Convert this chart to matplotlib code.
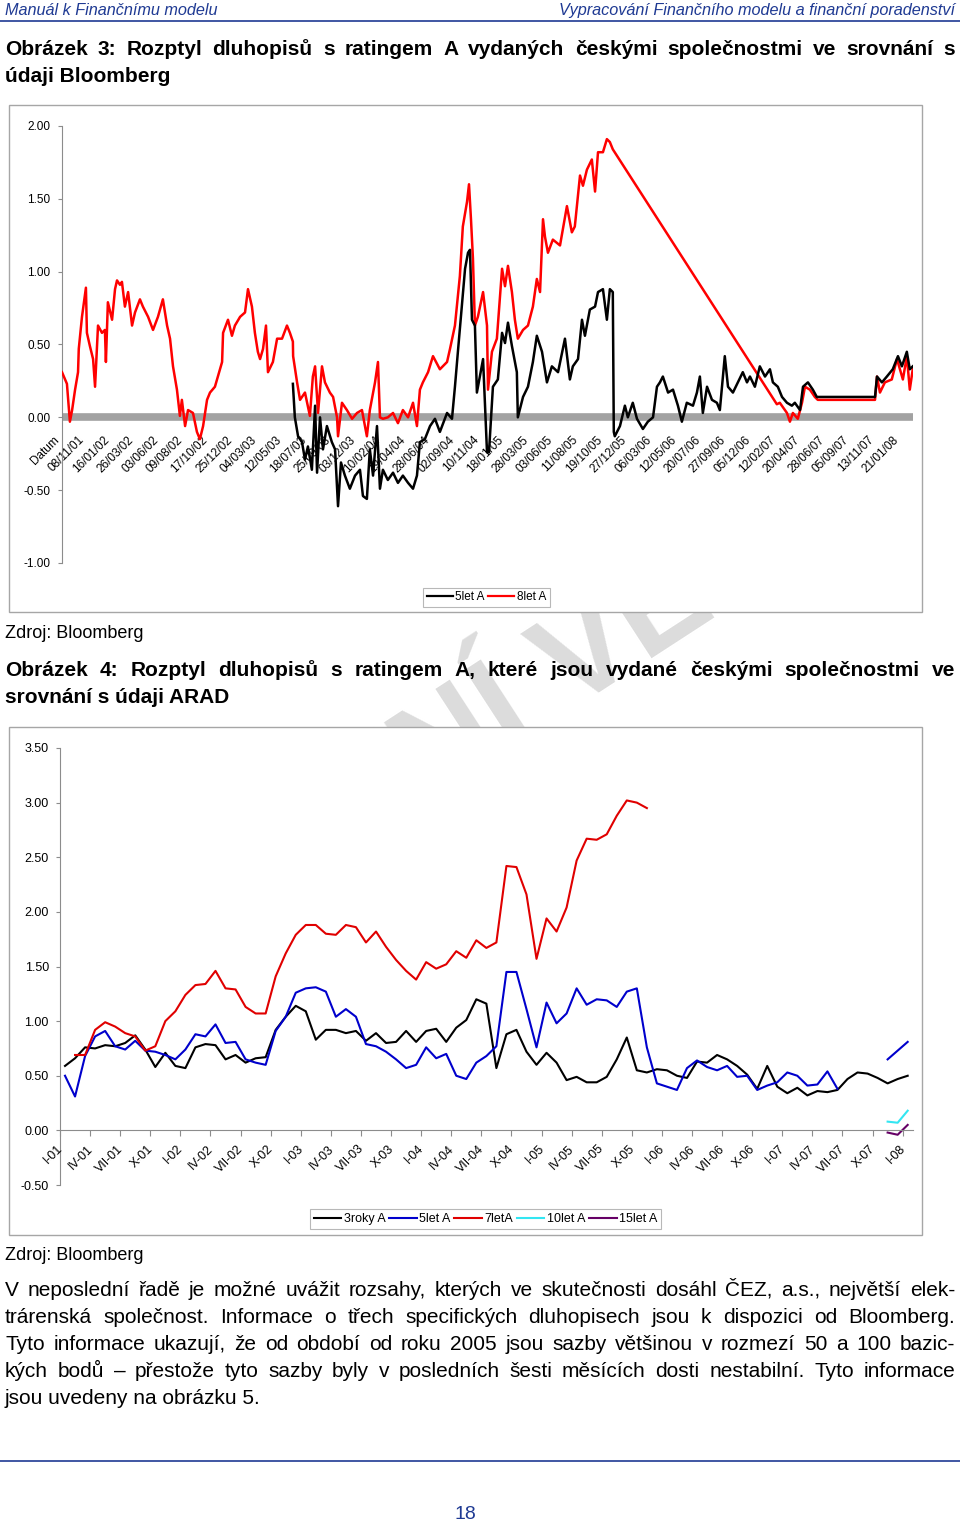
import numpy as np
import matplotlib
matplotlib.use('Agg')
import matplotlib.pyplot as plt
from matplotlib.patches import Rectangle
from matplotlib.lines import Line2D

plt.rcParams['font.family'] = ['Liberation Sans', 'DejaVu Sans']

# ---------------- data: chart 1 (daily spreads, x in label steps) ----------------
dates1 = ['Datum', '08/11/01', '16/01/02', '26/03/02', '03/06/02', '09/08/02', '17/10/02',
          '25/12/02', '04/03/03', '12/05/03', '18/07/03', '25/09/03', '03/12/03', '10/02/04',
          '19/04/04', '28/06/04', '02/09/04', '10/11/04', '18/01/05', '28/03/05', '03/06/05',
          '11/08/05', '19/10/05', '27/12/05', '06/03/06', '12/05/06', '20/07/06', '27/09/06',
          '05/12/06', '12/02/07', '20/04/07', '28/06/07', '05/09/07', '13/11/07', '21/01/08']

x_8let = [0.00, 0.20, 0.32, 0.41, 0.53, 0.65, 0.68, 0.81, 0.97, 1.01, 1.13, 1.26, 1.34, 1.46,
          1.62, 1.74, 1.78, 1.86, 2.03, 2.15, 2.23, 2.35, 2.43, 2.55, 2.68, 2.84, 2.96, 3.16,
          3.28, 3.49, 3.69, 3.89, 4.09, 4.26, 4.38, 4.50, 4.66, 4.78, 4.86, 4.99, 5.11, 5.31,
          5.47, 5.59, 5.72, 5.88, 6.00, 6.20, 6.32, 6.49, 6.53, 6.73, 6.89, 7.01, 7.22, 7.42,
          7.54, 7.70, 7.82, 7.94, 8.03, 8.15, 8.27, 8.35, 8.55, 8.72, 8.92, 9.12, 9.24, 9.36,
          9.37, 9.53, 9.65, 9.85, 10.05, 10.17, 10.26, 10.38, 10.54, 10.66, 10.86, 10.99,
          11.15, 11.19, 11.35, 11.55, 11.76, 11.96, 12.16, 12.36, 12.48, 12.69, 12.81, 12.89,
          13.01, 13.21, 13.42, 13.62, 13.82, 14.03, 14.23, 14.39, 14.51, 14.63, 14.84, 15.04,
          15.32, 15.61, 15.73, 15.93, 16.13, 16.25, 16.42, 16.50, 16.58, 16.66, 16.74, 16.86,
          17.07, 17.23, 17.27, 17.43, 17.63, 17.84, 17.96, 18.08, 18.24, 18.36, 18.48, 18.69,
          18.89, 19.09, 19.25, 19.38, 19.50, 19.58, 19.70, 19.90, 20.19, 20.47, 20.67, 20.79,
          21.00, 21.12, 21.28, 21.48, 21.61, 21.73, 21.93, 22.09, 22.21, 22.33, 28.98, 29.10,
          29.39, 29.51, 29.63, 29.83, 30.00, 30.12, 30.32, 30.52, 30.64, 32.96, 33.04, 33.16,
          33.36, 33.64, 33.85, 33.97, 34.09, 34.25, 34.37, 34.49]
y_8let = [0.31, 0.23, -0.03, 0.05, 0.19, 0.31, 0.47, 0.69, 0.89, 0.58, 0.49, 0.40, 0.21, 0.63,
          0.58, 0.60, 0.38, 0.79, 0.67, 0.88, 0.94, 0.91, 0.93, 0.76, 0.86, 0.63, 0.72, 0.81,
          0.76, 0.69, 0.60, 0.69, 0.81, 0.63, 0.54, 0.35, 0.19, 0.01, 0.12, -0.06, 0.05, 0.03,
          -0.10, -0.15, -0.06, 0.12, 0.17, 0.21, 0.28, 0.38, 0.58, 0.67, 0.56, 0.63, 0.69, 0.72,
          0.88, 0.76, 0.58, 0.45, 0.40, 0.47, 0.63, 0.31, 0.38, 0.54, 0.54, 0.63, 0.58, 0.52,
          0.42, 0.24, 0.12, 0.17, 0.01, 0.28, 0.35, 0.03, 0.35, 0.24, 0.17, 0.14,
          0.00, -0.13, 0.10, 0.05, -0.01, 0.03, 0.05, -0.13, 0.05, 0.24, 0.38, 0.00,
          -0.01, 0.00, 0.03, -0.04, 0.05, 0.00, 0.10, -0.06, 0.19, 0.24, 0.31, 0.42,
          0.33, 0.38, 0.47, 0.63, 0.97, 1.31, 1.48, 1.60, 1.36, 1.09, 0.63, 0.69,
          0.86, 0.63, 0.19, 0.45, 0.54, 1.02, 0.90, 1.04, 0.86, 0.67, 0.54, 0.60,
          0.63, 0.76, 0.95, 0.86, 1.36, 1.24, 1.13, 1.22, 1.18, 1.45, 1.27, 1.31,
          1.66, 1.59, 1.70, 1.77, 1.55, 1.82, 1.82, 1.91, 1.89, 1.84, 0.09, 0.10,
          0.03, -0.03, 0.03, -0.01, 0.10, 0.21, 0.19, 0.14, 0.12, 0.12, 0.28, 0.17,
          0.24, 0.26, 0.40, 0.33, 0.26, 0.42, 0.19, 0.33]

x_5let = [9.36, 9.44, 9.57, 9.73, 9.85, 9.97, 10.13, 10.26, 10.34, 10.46, 10.58, 10.74, 10.94,
          11.07, 11.19, 11.31, 11.47, 11.67, 11.88, 12.08, 12.20, 12.36, 12.48, 12.61, 12.77,
          12.89, 13.01, 13.21, 13.42, 13.62, 13.82, 14.03, 14.23, 14.39, 14.51, 14.71, 14.92,
          15.12, 15.32, 15.61, 15.81, 15.93, 16.05, 16.21, 16.34, 16.46, 16.54, 16.62, 16.74,
          16.82, 16.94, 17.07, 17.23, 17.31, 17.47, 17.67, 17.84, 17.96, 18.08, 18.24, 18.44,
          18.48, 18.69, 18.89, 19.09, 19.25, 19.46, 19.66, 19.86, 20.11, 20.39, 20.59, 20.71,
          20.92, 21.08, 21.20, 21.40, 21.61, 21.73, 21.93, 22.09, 22.21, 22.33, 22.37, 22.41,
          22.62, 22.82, 22.94, 23.14, 23.31, 23.55, 23.75, 23.96, 24.12, 24.24, 24.36, 24.57,
          24.77, 24.97, 25.13, 25.33, 25.58, 25.74, 25.86, 25.98, 26.15, 26.35, 26.55, 26.67,
          26.87, 27.00, 27.20, 27.40, 27.60, 27.77, 27.89, 28.09, 28.29, 28.50, 28.70, 28.82,
          29.02, 29.19, 29.39, 29.59, 29.71, 29.92, 30.04, 30.24, 30.44, 30.60, 30.64, 32.96,
          33.04, 33.24, 33.44, 33.68, 33.89, 34.05, 34.25, 34.37, 34.49]
y_5let = [0.23, 0.00, -0.13, -0.17, -0.29, -0.20, -0.36, 0.08, -0.38, 0.00, -0.22, -0.06, -0.17,
          -0.22, -0.61, -0.31, -0.40, -0.49, -0.40, -0.36, -0.54, -0.56, -0.22, -0.40, -0.06,
          -0.49, -0.36, -0.43, -0.38, -0.45, -0.40, -0.45, -0.49, -0.40, -0.17, -0.15, -0.06,
          -0.01, -0.10, 0.03, -0.01, 0.21, 0.45, 0.76, 1.02, 1.13, 1.15, 0.67, 0.63,
          0.17, 0.28, 0.40, -0.24, -0.24, 0.21, 0.26, 0.58, 0.51, 0.65, 0.49, 0.31,
          0.00, 0.14, 0.21, 0.38, 0.56, 0.45, 0.24, 0.35, 0.31, 0.54, 0.26, 0.35,
          0.40, 0.67, 0.56, 0.74, 0.76, 0.86, 0.88, 0.67, 0.88, 0.86, -0.10, -0.13,
          -0.06, 0.08, 0.00, 0.10, -0.01, -0.08, -0.03, 0.00, 0.21, 0.24, 0.28, 0.17,
          0.19, 0.08, -0.03, 0.10, 0.08, 0.17, 0.28, 0.03, 0.21, 0.12, 0.10, 0.05,
          0.42, 0.21, 0.17, 0.24, 0.31, 0.24, 0.28, 0.21, 0.35, 0.28, 0.33, 0.24,
          0.21, 0.14, 0.10, 0.08, 0.10, 0.05, 0.21, 0.24, 0.19, 0.14, 0.14, 0.14,
          0.28, 0.24, 0.28, 0.33, 0.42, 0.35, 0.45, 0.33, 0.35]

# ---------------- data: chart 2 (monthly spreads, I-01 .. I-08) ----------------
labels2 = ['I-01', 'IV-01', 'VII-01', 'X-01', 'I-02', 'IV-02', 'VII-02', 'X-02',
           'I-03', 'IV-03', 'VII-03', 'X-03', 'I-04', 'IV-04', 'VII-04', 'X-04',
           'I-05', 'IV-05', 'VII-05', 'X-05', 'I-06', 'IV-06', 'VII-06', 'X-06',
           'I-07', 'IV-07', 'VII-07', 'X-07', 'I-08']
nan = np.nan
roky3 = [0.59, 0.66, 0.76, 0.75, 0.78, 0.77, 0.80, 0.87, 0.74, 0.58,
         0.71, 0.59, 0.57, 0.76, 0.79, 0.78, 0.65, 0.69, 0.62, 0.66,
         0.67, 0.92, 1.04, 1.14, 1.09, 0.83, 0.92, 0.92, 0.89, 0.91,
         0.82, 0.89, 0.80, 0.81, 0.91, 0.81, 0.91, 0.93, 0.81, 0.94,
         1.01, 1.20, 1.16, 0.57, 0.88, 0.92, 0.72, 0.60, 0.71, 0.62,
         0.46, 0.49, 0.44, 0.44, 0.49, 0.65, 0.85, 0.55, 0.53, 0.56,
         0.55, 0.50, 0.48, 0.63, 0.62, 0.69, 0.65, 0.59, 0.51, 0.38,
         0.59, 0.40, 0.34, 0.39, 0.32, 0.36, 0.35, 0.37, 0.47, 0.53,
         0.52, 0.48, 0.43, 0.47, 0.50]
let5 = [0.50, 0.31, 0.68, 0.86, 0.91, 0.77, 0.74, 0.82, 0.73, 0.72,
        0.69, 0.65, 0.74, 0.88, 0.86, 0.97, 0.80, 0.81, 0.65, 0.62,
        0.60, 0.91, 1.04, 1.26, 1.30, 1.31, 1.27, 1.04, 1.11, 1.04,
        0.79, 0.77, 0.72, 0.65, 0.57, 0.60, 0.76, 0.66, 0.70, 0.50,
        0.47, 0.62, 0.68, 0.77, 1.45, 1.45, 1.11, 0.76, 1.17, 0.98,
        1.07, 1.30, 1.15, 1.20, 1.19, 1.13, 1.27, 1.30, 0.76, 0.43,
        0.40, 0.37, 0.57, 0.64, 0.58, 0.55, 0.59, 0.49, 0.50, 0.37,
        0.41, 0.44, 0.53, 0.50, 0.41, 0.42, 0.54, 0.38, nan, nan,
        nan, nan, 0.65, 0.73, 0.81]
let7 = [nan, 0.69, 0.69, 0.92, 0.99, 0.95, 0.89, 0.86, 0.73, 0.77,
        1.00, 1.09, 1.24, 1.33, 1.34, 1.46, 1.30, 1.29, 1.13, 1.07,
        1.07, 1.41, 1.62, 1.79, 1.88, 1.88, 1.80, 1.79, 1.88, 1.86,
        1.72, 1.82, 1.68, 1.56, 1.46, 1.38, 1.54, 1.48, 1.52, 1.64,
        1.58, 1.74, 1.67, 1.72, 2.42, 2.41, 2.16, 1.57, 1.94, 1.82,
        2.04, 2.47, 2.67, 2.66, 2.71, 2.88, 3.02, 3.00, 2.95] + [nan] * 26
let10 = [nan] * 82 + [0.08, 0.07, 0.18]
let15 = [nan] * 82 + [-0.02, -0.04, 0.05]

# ---------------- page texts ----------------
title3 = ['Obrázek 3: Rozptyl dluhopisů s ratingem A vydaných českými společnostmi ve srovnání s',
          'údaji Bloomberg']
title4 = ['Obrázek 4: Rozptyl dluhopisů s ratingem A, které jsou vydané českými společnostmi ve',
          'srovnání s údaji ARAD']
para = ['V neposlední řadě je možné uvážit rozsahy, kterých ve skutečnosti dosáhl ČEZ, a.s., největší elek-',
        'trárenská společnost. Informace o třech specifických dluhopisech jsou k dispozici od Bloomberg.',
        'Tyto informace ukazují, že od období od roku 2005 jsou sazby většinou v rozmezí 50 a 100 bazic-',
        'kých bodů – přestože tyto sazby byly v posledních šesti měsících dosti nestabilní. Tyto informace',
        'jsou uvedeny na obrázku 5.']

W, H = 960, 1521
LEFT, RIGHT = 5, 955
NAVY = '#1f3a93'
GRAY = '#8c8c8c'

fig = plt.figure(figsize=(W / 100, H / 100), dpi=100)


def fx(px):
    return px / W


def fy(py):
    return 1 - py / H


def axes_px(x0, y0, x1, y1):
    ax = fig.add_axes([fx(x0), fy(y1), (x1 - x0) / W, (y1 - y0) / H])
    ax.set_facecolor('none')
    return ax


def justify(text, y, size, weight='normal', last=False):
    if last:
        fig.text(fx(LEFT), fy(y), text, fontsize=size, weight=weight, va='baseline', ha='left')
        return
    words = text.split(' ')
    r = fig.canvas.get_renderer()
    objs = [fig.text(0, fy(y), w, fontsize=size, weight=weight, va='baseline', ha='left') for w in words]
    widths = [o.get_window_extent(r).width for o in objs]
    gap = (RIGHT - LEFT - sum(widths)) / (len(words) - 1)
    x = LEFT
    for o, w in zip(objs, widths):
        o.set_x(fx(x))
        x += w + gap


def box(x0, y0, x1, y1):
    fig.patches.append(Rectangle((fx(x0), fy(y1)), (x1 - x0) / W, (y1 - y0) / H,
                                 transform=fig.transFigure, facecolor='white',
                                 edgecolor='#a6a6a6', lw=1.0, zorder=-1))


# header / footer
fig.text(fx(5), fy(15), 'Manuál k Finančnímu modelu', fontsize=11.7, style='italic',
         color=NAVY, va='baseline')
fig.text(fx(955), fy(15), 'Vypracování Finančního modelu a finanční poradenství', fontsize=11.7,
         style='italic', color=NAVY, va='baseline', ha='right')
fig.add_artist(Line2D([0, 1], [fy(20.5), fy(20.5)], color=NAVY, lw=1.2))
fig.add_artist(Line2D([0, 1], [fy(1461), fy(1461)], color=NAVY, lw=1.2))
fig.text(fx(465.5), fy(1519), '18', fontsize=14, color=NAVY, ha='center', va='baseline')

# watermark, only the part between the two chart boxes shows
fig.text(fx(247), fy(880), 'OVNÍ VER', fontsize=96, weight='bold', color='#dcdcdc',
         rotation=33, ha='left', va='center', rotation_mode='anchor', zorder=-3)

justify(title3[0], 55, 15, 'bold')
justify(title3[1], 82, 15, 'bold', last=True)
fig.text(fx(5), fy(638), 'Zdroj: Bloomberg', fontsize=13, va='baseline')
justify(title4[0], 676, 15, 'bold')
justify(title4[1], 703, 15, 'bold', last=True)
fig.text(fx(5), fy(1260), 'Zdroj: Bloomberg', fontsize=13, va='baseline')
for k, line in enumerate(para):
    justify(line, 1296 + 27 * k, 15, last=(k == len(para) - 1))

# ---------------- chart 1 ----------------
box(9, 105, 922, 612)
ax1 = axes_px(62, 126, 913, 563)
ax1.plot(x_8let, y_8let, color='#ff0000', lw=1.8, zorder=3)
ax1.plot(x_5let, y_5let, color='black', lw=1.8, zorder=4)
ax1.axhline(0, color='#a2a2a2', lw=5.5, zorder=1)
ax1.set_xlim(0, 34.5)
ax1.set_ylim(-1, 2)
ax1.set_yticks(np.arange(-1, 2.01, 0.5))
ax1.set_yticklabels(['%.2f' % v for v in np.arange(-1, 2.01, 0.5)])
ax1.set_xticks([])
for s in ['top', 'right', 'bottom']:
    ax1.spines[s].set_visible(False)
ax1.spines['left'].set_color(GRAY)
ax1.tick_params(axis='y', colors=GRAY, labelcolor='black', labelsize=8.5, length=3, pad=5.5)
for i, lab in enumerate(dates1):
    ax1.annotate(lab, xy=(i, 0), xytext=(-3, -15), textcoords='offset points', rotation=45,
                 ha='right', va='center', rotation_mode='anchor', fontsize=8.5, zorder=2)
h1 = [Line2D([], [], color='black', lw=1.6), Line2D([], [], color='#ff0000', lw=1.6)]
fig.legend(h1, ['5let A', '8let A'], loc='center', bbox_to_anchor=(fx(486.5), fy(597.5)),
           ncol=2, fontsize=8.5, frameon=True, fancybox=False, edgecolor='#a6a6a6',
           handlelength=2.2, handletextpad=0.2, columnspacing=0.3, borderpad=0.3,
           borderaxespad=0).get_frame().set_linewidth(0.8)

# ---------------- chart 2 ----------------
box(9, 727, 922, 1235)
ax2 = axes_px(60, 748, 912.7, 1185)
months = np.arange(len(roky3))
ax2.plot(months, roky3, color='black', lw=1.5)
ax2.plot(months, let5, color='#0000cc', lw=1.5)
ax2.plot(months, let7, color='#e00000', lw=1.5)
ax2.plot(months, let10, color='#33e6f2', lw=1.5)
ax2.plot(months, let15, color='#660066', lw=1.5)
ax2.set_xlim(-0.5, 84.5)
ax2.set_ylim(-0.5, 3.5)
ax2.set_yticks(np.arange(-0.5, 3.51, 0.5))
ax2.set_yticklabels(['%.2f' % v for v in np.arange(-0.5, 3.51, 0.5)])
ax2.set_xticks(np.arange(-0.5, 84, 3))
ax2.set_xticklabels([])
for s in ['top', 'right']:
    ax2.spines[s].set_visible(False)
ax2.spines['bottom'].set_position(('data', 0))
ax2.spines['bottom'].set_color(GRAY)
ax2.spines['left'].set_color(GRAY)
ax2.tick_params(axis='y', colors=GRAY, labelcolor='black', labelsize=9, length=3, pad=5)
ax2.tick_params(axis='x', colors=GRAY, length=4)
for k, lab in enumerate(labels2):
    ax2.annotate(lab, xy=(3 * k, 0), xytext=(-3, -12), textcoords='offset points', rotation=45,
                 ha='right', va='center', rotation_mode='anchor', fontsize=9)
h2 = [Line2D([], [], color=c, lw=1.5) for c in ['black', '#0000cc', '#e00000', '#33e6f2', '#660066']]
fig.legend(h2, ['3roky A', '5let A', '7letA', '10let A', '15let A'], loc='center',
           bbox_to_anchor=(fx(485.5), fy(1219)), ncol=5, fontsize=9, frameon=True,
           fancybox=False, edgecolor='#a6a6a6', handlelength=2.2, handletextpad=0.2,
           columnspacing=0.3, borderpad=0.3, borderaxespad=0).get_frame().set_linewidth(0.8)

fig.savefig('out.png', dpi=100)
